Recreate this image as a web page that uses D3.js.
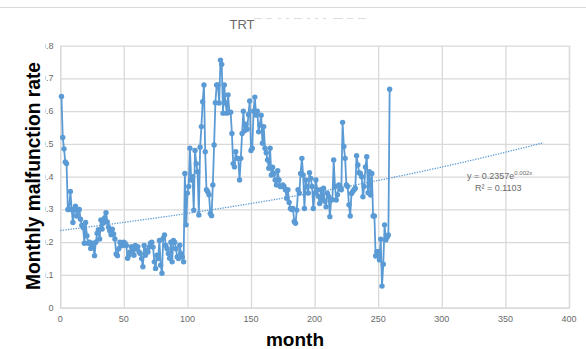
<!DOCTYPE html>
<html><head><meta charset="utf-8">
<script src="https://cdn.jsdelivr.net/npm/d3@7"></script>
<style>html,body{margin:0;padding:0;background:#fff;overflow:hidden}</style>
</head><body>
<script>
// ---- data ----
const months = d3.range(1, 260);
const rates = [
0.645,0.52,0.485,0.445,0.44,0.30,0.30,0.355,0.30,0.26,
0.30,0.31,0.28,0.295,0.30,0.27,0.252,0.245,0.197,0.26,
0.22,0.197,0.20,0.181,0.197,0.185,0.159,0.20,0.227,0.238,
0.21,0.268,0.24,0.26,0.275,0.29,0.262,0.246,0.235,0.223,
0.24,0.225,0.21,0.164,0.159,0.18,0.2,0.19,0.19,0.2,
0.197,0.19,0.151,0.16,0.17,0.186,0.175,0.16,0.19,0.18,
0.186,0.17,0.165,0.15,0.125,0.19,0.16,0.175,0.17,0.185,
0.197,0.2,0.185,0.14,0.12,0.16,0.15,0.205,0.13,0.105,
0.212,0.222,0.19,0.18,0.165,0.151,0.2,0.14,0.205,0.2,
0.18,0.155,0.15,0.191,0.165,0.155,0.14,0.41,0.253,0.35,
0.37,0.487,0.39,0.40,0.298,0.48,0.44,0.415,0.283,0.49,
0.553,0.629,0.68,0.476,0.36,0.354,0.345,0.288,0.281,0.375,
0.497,0.626,0.68,0.68,0.625,0.756,0.743,0.594,0.68,0.625,
0.594,0.65,0.597,0.597,0.532,0.44,0.43,0.476,0.456,0.456,
0.39,0.456,0.532,0.60,0.54,0.56,0.545,0.59,0.631,0.48,
0.487,0.60,0.643,0.588,0.60,0.537,0.558,0.588,0.502,0.553,
0.487,0.473,0.451,0.426,0.487,0.405,0.429,0.41,0.39,0.375,
0.418,0.39,0.37,0.37,0.375,0.37,0.36,0.334,0.36,0.321,
0.303,0.30,0.303,0.263,0.258,0.298,0.36,0.35,0.41,0.456,
0.405,0.303,0.39,0.37,0.35,0.412,0.395,0.37,0.303,0.35,
0.39,0.36,0.34,0.318,0.36,0.33,0.365,0.325,0.308,0.35,
0.34,0.278,0.329,0.33,0.451,0.37,0.329,0.345,0.375,0.37,
0.36,0.566,0.492,0.456,0.375,0.37,0.314,0.28,0.349,0.355,
0.36,0.365,0.464,0.436,0.412,0.41,0.40,0.339,0.37,0.43,
0.461,0.351,0.415,0.344,0.41,0.28,0.28,0.158,0.171,0.171,
0.146,0.209,0.066,0.133,0.253,0.207,0.215,0.222,0.667
];
const xTicks = [0,50,100,150,200,250,300,350,400];
const yTicks = [0,0.1,0.2,0.3,0.4,0.5,0.6,0.7,0.8];
const trendA = 0.2357, trendB = 0.002, trendEnd = 380;
const titleText = "TRT";
const xTitle = "month";
const yTitle = "Monthly malfunction rate";

// ---- drawing ----
const W = 586, H = 349;
const svg = d3.select("body").append("svg").attr("width", W).attr("height", H)
  .style("font-family", "'Liberation Sans', Arial, sans-serif");

const L = 60.2, R = 569, T = 45.7, B = 307.7;
const x = d3.scaleLinear().domain([0, 400]).range([L, R]);
const y = d3.scaleLinear().domain([0, 0.8]).range([B, T]);

const grid = "#d9d9d9", txt = "#6a6a6a", blue = "#5b9bd5";

// top border line
svg.append("line").attr("x1", 0).attr("x2", W).attr("y1", 7.5).attr("y2", 7.5)
  .attr("stroke", grid).attr("stroke-width", 1);

// gridlines via axes
const gx = svg.append("g").attr("transform", `translate(0,${B})`)
  .call(d3.axisBottom(x).tickValues(xTicks).tickSize(-(B - T)).tickFormat(""));
gx.selectAll("line").attr("stroke", grid).attr("stroke-width", 1.3);
gx.select(".domain").attr("stroke", grid).attr("stroke-width", 1.3);
const gy = svg.append("g").attr("transform", `translate(${L},0)`)
  .call(d3.axisLeft(y).tickValues(yTicks).tickSize(-(R - L)).tickFormat(""));
gy.selectAll("line").attr("stroke", grid).attr("stroke-width", 1.3);
gy.select(".domain").remove();

// tick labels
svg.append("g").selectAll("text").data(xTicks).join("text")
  .attr("x", d => x(d)).attr("y", 322).attr("text-anchor", "middle")
  .attr("font-size", 9).attr("fill", txt).text(d => d);
svg.append("g").selectAll("text").data(yTicks).join("text")
  .attr("x", 53.5).attr("y", d => y(d) + 3).attr("text-anchor", "end")
  .attr("font-size", 9).attr("fill", txt).text(d => d === 0 ? "0" : d3.format(".1f")(d));

// trendline
const tData = d3.range(0, trendEnd + 1, 2);
svg.append("path").datum(tData)
  .attr("d", d3.line().x(d => x(d)).y(d => y(trendA * Math.exp(trendB * d))))
  .attr("fill", "none").attr("stroke", blue).attr("stroke-width", 1.3)
  .attr("stroke-dasharray", "1.3,1.3");

// series line
const pts = months.map((m, i) => [m, rates[i]]);
svg.append("path").datum(pts)
  .attr("d", d3.line().x(d => x(d[0])).y(d => y(d[1])))
  .attr("fill", "none").attr("stroke", blue).attr("stroke-width", 1.8)
  .attr("stroke-linejoin", "round");
svg.append("g").selectAll("circle").data(pts).join("circle")
  .attr("cx", d => x(d[0])).attr("cy", d => y(d[1])).attr("r", 2.7)
  .attr("fill", blue);

// trend equation
const eq = svg.append("text").attr("x", 467).attr("y", 179)
  .attr("font-size", 9).attr("fill", txt);
eq.append("tspan").text("y = " + trendA + "e");
eq.append("tspan").attr("dy", -4).attr("font-size", 6).text(trendB + "x");
svg.append("text").attr("x", 475).attr("y", 191).attr("font-size", 9).attr("fill", txt)
  .text("R² = 0.1103");

// chart title
svg.append("text").attr("x", 242).attr("y", 29).attr("text-anchor", "middle")
  .attr("font-size", 13).attr("fill", txt).text(titleText);
// faint small marks next to title
const faint = [[254,262],[266,272],[278,281],[286,289],[294,302],[307,310],[315,318],[323,326],[333,343],[347,353],[358,366]];
svg.append("g").selectAll("line").data(faint).join("line")
  .attr("x1", d => d[0]).attr("x2", d => d[1]).attr("y1", 18.5).attr("y2", 18.5)
  .attr("stroke", "#d4d4d4").attr("stroke-width", 0.8);

// y title with white backing covering tick label zeros
svg.append("rect").attr("x", 18).attr("y", 36).attr("width", 27.5).attr("height", 262).attr("fill", "#fff");
svg.append("text").attr("transform", "translate(40,176) rotate(-90)")
  .attr("text-anchor", "middle").attr("font-size", 20).attr("font-weight", "bold")
  .attr("fill", "#000").attr("textLength", 228).attr("lengthAdjust", "spacingAndGlyphs")
  .text(yTitle);

// x title
svg.append("text").attr("x", 295).attr("y", 346).attr("text-anchor", "middle")
  .attr("font-size", 19).attr("font-weight", "bold").attr("fill", "#000").text(xTitle);
</script>
</body></html>
